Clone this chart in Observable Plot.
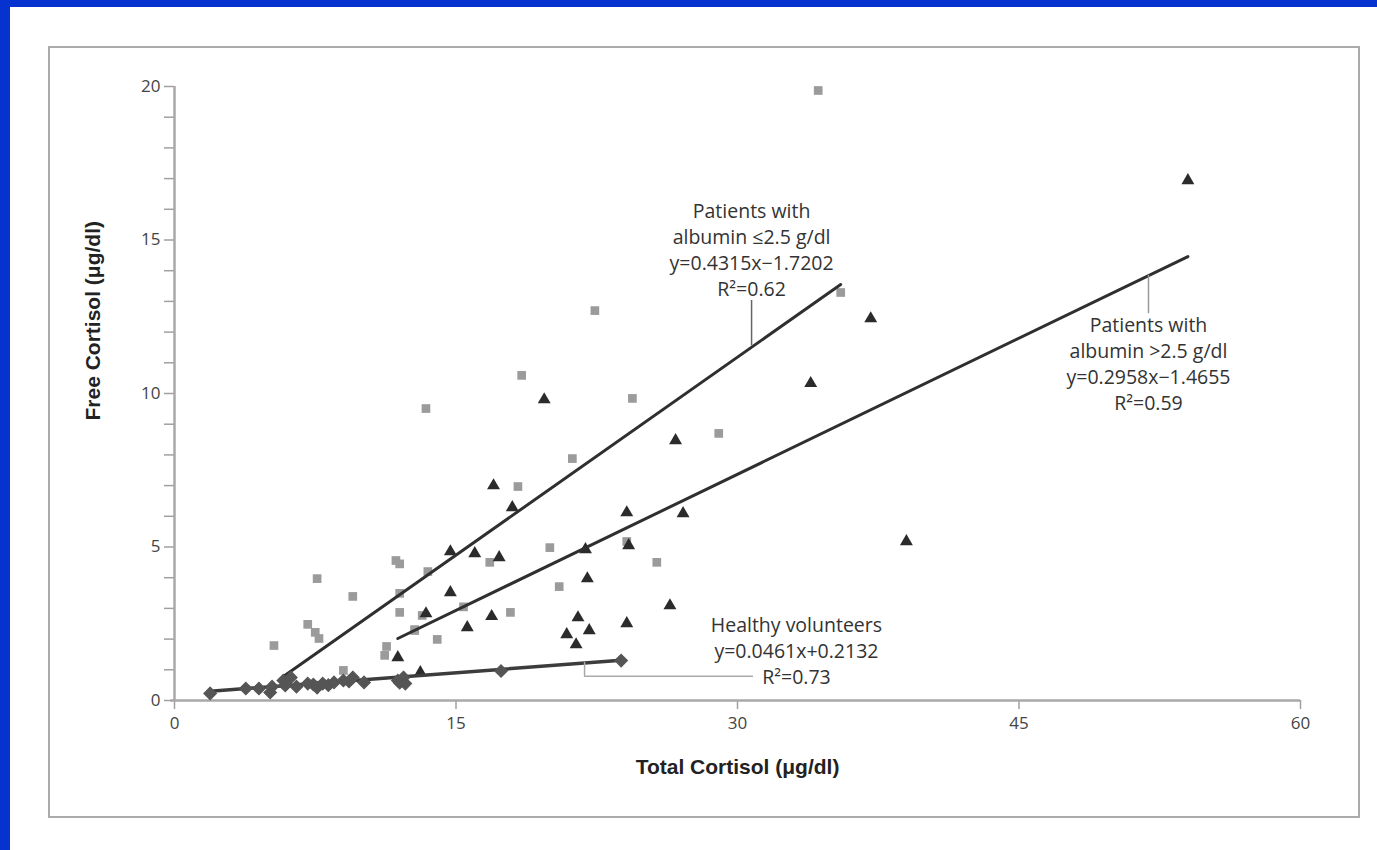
<!DOCTYPE html>
<html>
<head>
<meta charset="utf-8">
<script src="https://cdn.jsdelivr.net/npm/d3@7"></script>
<script src="https://cdn.jsdelivr.net/npm/@observablehq/plot@0.6"></script>
<style>
  html, body { margin: 0; padding: 0; }
  body { width: 1377px; height: 850px; background: #0632cf; position: relative; overflow: hidden; }
  #paper { position: absolute; left: 10px; top: 7px; width: 1367px; height: 843px; background: #fff; }
  #frame { position: absolute; left: 48px; top: 46px; width: 1312px; height: 772px; box-sizing: border-box; border: 2px solid #ababab; }
  #chart { position: absolute; left: 0; top: 0; }
</style>
</head>
<body>
<div id="paper"></div>
<div id="frame"></div>
<div id="chart"></div>
<script>
// Healthy volunteers (diamonds)
const healthyX = [1.9, 3.8, 4.5, 5.1, 5.2, 5.8, 5.9, 6.2, 6.5, 7.1, 7.4, 7.6, 7.9, 8.2, 8.5, 9.0, 9.3, 9.5, 10.1, 11.9, 12.0, 12.2, 12.3, 17.4, 23.8];
const healthyY = [0.23, 0.39, 0.39, 0.26, 0.45, 0.65, 0.49, 0.75, 0.45, 0.55, 0.52, 0.42, 0.55, 0.50, 0.59, 0.65, 0.62, 0.75, 0.59, 0.65, 0.58, 0.75, 0.55, 0.96, 1.30];
// Patients with albumin <=2.5 g/dl (squares)
const lowAlbX = [5.3, 7.1, 7.5, 7.6, 7.7, 9.0, 9.5, 11.2, 11.3, 11.8, 12.0, 12.0, 12.0, 12.8, 12.8, 13.2, 13.4, 13.5, 14.0, 15.4, 16.8, 17.9, 18.3, 18.5, 20.0, 20.5, 21.2, 22.4, 24.1, 24.4, 25.7, 29.0, 34.3, 35.5];
const lowAlbY = [1.79, 2.48, 2.22, 3.97, 2.02, 0.98, 3.39, 1.47, 1.76, 4.56, 4.45, 3.49, 2.87, 2.31, 2.28, 2.77, 9.51, 4.20, 1.99, 3.05, 4.50, 2.87, 6.97, 10.59, 4.98, 3.71, 7.88, 12.70, 5.18, 9.84, 4.50, 8.70, 19.87, 13.29];
// Patients with albumin >2.5 g/dl (triangles)
const highAlbX = [11.9, 13.1, 13.4, 14.7, 14.7, 15.6, 16.0, 16.9, 17.0, 17.3, 18.0, 19.7, 20.9, 21.4, 21.5, 21.9, 22.0, 22.1, 24.1, 24.1, 24.2, 26.4, 26.7, 27.1, 33.9, 37.1, 39.0, 54.0];
const highAlbY = [1.40, 0.91, 2.83, 4.85, 3.52, 2.38, 4.79, 2.74, 7.00, 4.66, 6.29, 9.80, 2.15, 1.82, 2.70, 4.92, 3.97, 2.28, 2.51, 6.12, 5.05, 3.09, 8.47, 6.09, 10.33, 12.44, 5.18, 16.94];
// Regression line end points
const healthyFitX = [1.9, 23.8];
const healthyFitY = [0.30, 1.31];
const lowAlbFitX = [5.8, 35.5];
const lowAlbFitY = [0.78, 13.55];
const highAlbFitX = [11.9, 54.0];
const highAlbFitY = [2.02, 14.46];
// Tick labels
const xTicks = [0, 15, 30, 45, 60];
const yTicks = [0, 5, 10, 15, 20];
const yMinorTicks = d3.range(0, 21);
// Annotation texts
const lowAlbLabel = "Patients with\nalbumin \u22642.5 g/dl\ny=0.4315x\u22121.7202\nR\u00b2=0.62";
const highAlbLabel = "Patients with\nalbumin >2.5 g/dl\ny=0.2958x\u22121.4655\nR\u00b2=0.59";
const healthyLabel = "Healthy volunteers\ny=0.0461x+0.2132\nR\u00b2=0.73";
const xTitle = "Total Cortisol (\u03bcg/dl)";
const yTitle = "Free Cortisol (\u03bcg/dl)";

const pts = (xs, ys) => xs.map((x, i) => ({x, y: ys[i]}));
const healthy = pts(healthyX, healthyY);
const lowAlb = pts(lowAlbX, lowAlbY);
const highAlb = pts(highAlbX, highAlbY);

const annFont = "'Open Sans', Lato, sans-serif";
const titleFont = "'Liberation Sans Narrow', 'Liberation Sans', sans-serif";

const chart = Plot.plot({
  width: 1377,
  height: 850,
  marginLeft: 174,
  marginRight: 77,
  marginTop: 86,
  marginBottom: 150,
  style: {background: "transparent", fontFamily: annFont, fontSize: "17px"},
  x: {domain: [0, 60], label: null},
  y: {domain: [0, 20], label: null},
  marks: [
    Plot.axisY({ticks: yMinorTicks, tickFormat: d => yTicks.includes(d) ? String(d) : "", tickSize: 10, tickPadding: 4,
      stroke: "#a0a0a0", strokeWidth: 1.5, fill: "#444", fontSize: 17}),
    Plot.axisX({ticks: xTicks, tickSize: 9, tickPadding: 7, stroke: "#a0a0a0", strokeWidth: 1.5, fill: "#444",
      fontSize: 17}),
    Plot.ruleX([0], {y1: 0, y2: 20, stroke: "#a8a8a8", strokeWidth: 2.5}),
    Plot.ruleY([0], {x1: -0.2, x2: 60, stroke: "#a8a8a8", strokeWidth: 2.5}),
    Plot.dot(lowAlb, {x: "x", y: "y", symbol: "square", r: 4.9, fill: "#9b9b9b", stroke: "none"}),
    Plot.dot(highAlb, {x: "x", y: "y", symbol: "triangle", r: 4.8, fill: "#2b2b2b", stroke: "none"}),
    Plot.line(pts(lowAlbFitX, lowAlbFitY), {x: "x", y: "y", stroke: "#2f2f2f", strokeWidth: 3}),
    Plot.line(pts(highAlbFitX, highAlbFitY), {x: "x", y: "y", stroke: "#2f2f2f", strokeWidth: 3}),
    Plot.line(pts(healthyFitX, healthyFitY), {x: "x", y: "y", stroke: "#3c3c3c", strokeWidth: 3.5}),
    Plot.dot(healthy, {x: "x", y: "y", symbol: "diamond2", r: 5.6, fill: "#555", stroke: "#555", strokeWidth: 1.2}),
    // leader lines
    Plot.ruleX([30.75], {y1: 13.03, y2: 11.55, stroke: "#666", strokeWidth: 1.5}),
    Plot.ruleX([51.9], {y1: 13.85, y2: 12.6, stroke: "#999", strokeWidth: 1.5}),
    Plot.line([{x: 21.85, y: 1.24}, {x: 21.85, y: 0.79}, {x: 30.8, y: 0.79}], {x: "x", y: "y", stroke: "#aaa", strokeWidth: 1.5}),
    // annotations
    Plot.text([lowAlbLabel], {x: 30.75, y: 14.72, text: d => d, fontSize: 19.5, lineHeight: 1.33, fill: "#333"}),
    Plot.text([highAlbLabel], {x: 51.9, y: 11.01, text: d => d, fontSize: 19.5, lineHeight: 1.33, fill: "#333"}),
    Plot.text([healthyLabel], {x: 33.14, y: 1.66, text: d => d, fontSize: 19.5, lineHeight: 1.33, fill: "#333"}),
    // axis titles
    Plot.text([xTitle], {frameAnchor: "bottom", dy: 73, text: d => d, fontSize: 21, fontWeight: "bold", fill: "#222", fontFamily: titleFont}),
    Plot.text([yTitle], {frameAnchor: "left", dx: -81, dy: 27, rotate: -90, text: d => d, fontSize: 21, fontWeight: "bold", fill: "#222", fontFamily: titleFont})
  ]
});
document.getElementById("chart").appendChild(chart);
</script>
</body>
</html>
